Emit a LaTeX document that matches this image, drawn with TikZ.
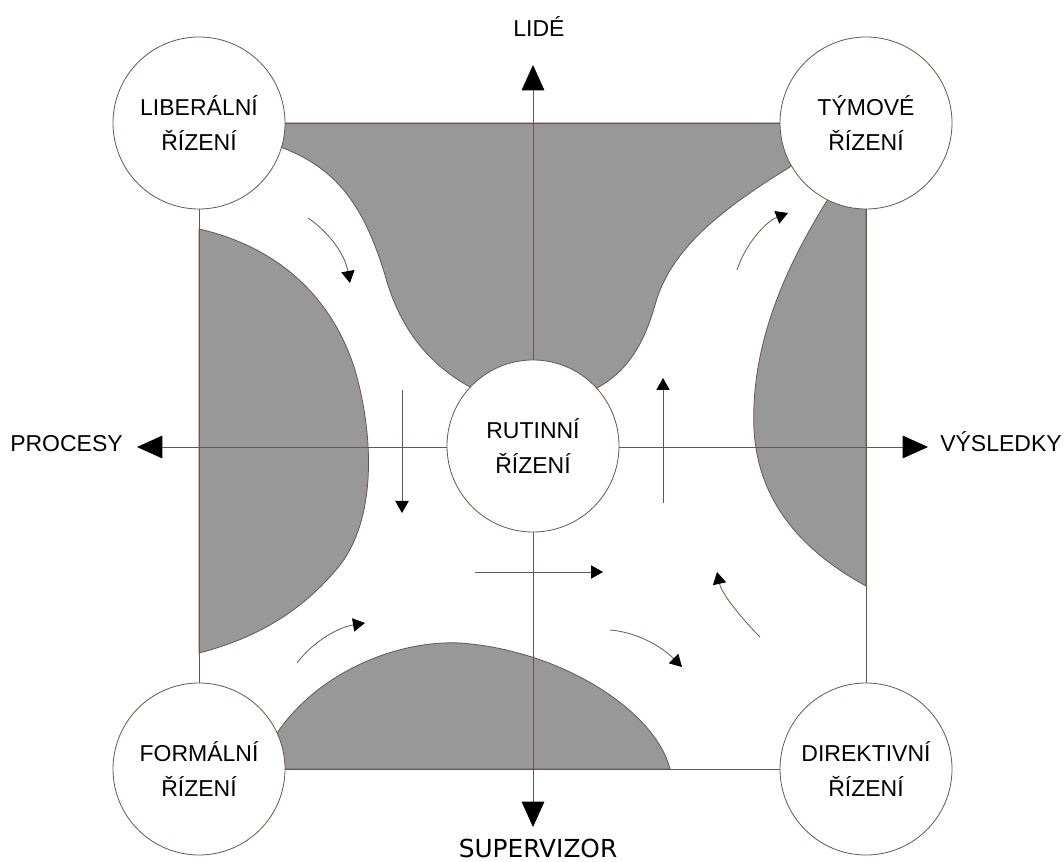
\documentclass[tikz,border=0pt]{standalone}
\usepackage{fontspec}
\setmainfont{Liberation Sans}
\newfontfamily\dejavu{DejaVu Sans}
\usetikzlibrary{arrows.meta}
\definecolor{lc}{RGB}{105,85,80}
\definecolor{shade}{RGB}{152,152,152}
\pgfdeclarelayer{bg}
\pgfsetlayers{bg,main}
\begin{document}
\begin{tikzpicture}[x=0.75pt,y=-0.75pt,
  line/.style={draw=lc,line width=0.6pt},
  zone/.style={fill=shade,draw=lc,line width=0.6pt},
  circ/.style={circle,draw=lc,line width=0.6pt,fill=white,minimum size=129pt,inner sep=0pt,align=center,font=\fontsize{17.25}{26}\selectfont},
  lbl/.style={font=\fontsize{17.25}{20}\selectfont,inner sep=0pt},
  bigarrow/.style={line,{Triangle[length=19pt,width=17pt,color=black]}-{Triangle[length=19pt,width=17pt,color=black]}},
  flow/.style={line,-{Triangle[length=9pt,width=10pt,color=black]}}]
\useasboundingbox (0,0) rectangle (1064,862);

% circles
\node[circ] (lib) at (199,123) {LIBERÁLNÍ\\ŘÍZENÍ};
\node[circ] (tym) at (866,123) {TÝMOVÉ\\ŘÍZENÍ};
\node[circ] (form) at (199,769) {FORMÁLNÍ\\ŘÍZENÍ};
\node[circ] (dir) at (866,769) {DIREKTIVNÍ\\ŘÍZENÍ};
\node[circ] (rut) at (533,446) {RUTINNÍ\\ŘÍZENÍ};

% axis labels
\node[lbl,anchor=base] (lide) at (539,37) {LIDÉ};
\node[lbl,anchor=base west] (proc) at (10,452) {PROCESY};
\node[lbl,anchor=base west] (vys) at (940,452) {VÝSLEDKY};
\node[inner sep=0pt,anchor=base,font=\dejavu\fontsize{18.6}{22}\selectfont] (sup) at (538,857) {SUPERVIZOR};

% axis tips
\coordinate (lideTip) at (533,65);
\coordinate (supTip) at (533,827);
\coordinate (procTip) at (137,447);
\coordinate (vysTip) at (928,447);

% flow arrow ends
\coordinate (a1s) at (308,218); \coordinate (a1e) at (350,283);
\coordinate (a2s) at (737,270); \coordinate (a2e) at (788,213);
\coordinate (a3s) at (402,390); \coordinate (a3e) at (402,513);
\coordinate (a4s) at (663,503); \coordinate (a4e) at (663,378);
\coordinate (a5s) at (475,572); \coordinate (a5e) at (603,572);
\coordinate (a6s) at (297,663); \coordinate (a6e) at (365,623);
\coordinate (a7s) at (610,630); \coordinate (a7e) at (682,667);
\coordinate (a8s) at (760,637); \coordinate (a8e) at (717,572);

\begin{pgfonlayer}{bg}
% grey zones
\path[zone] (250,123) -- (800,123) -- (800,150) -- (790,167)
  .. controls (720,210) and (670,250) .. (655,305)
  .. controls (645,340) and (630,370) .. (597,388)
  -- (533,420) -- (470,387)
  .. controls (430,365) and (400,330) .. (385,275)
  .. controls (365,210) and (340,170) .. (283,148)
  -- (250,140) -- cycle;
\path[zone] (199,229)
  .. controls (270,245) and (330,290) .. (355,370)
  .. controls (375,440) and (375,520) .. (340,565)
  .. controls (300,615) and (250,640) .. (199,653) -- cycle;
\path[zone] (866,160) -- (840,185) -- (828,199)
  .. controls (790,260) and (750,340) .. (754,430)
  .. controls (758,500) and (800,550) .. (866,586) -- cycle;
\path[zone] (260,769) -- (260,745) -- (277,733)
  .. controls (320,670) and (400,640) .. (460,643)
  .. controls (560,650) and (655,710) .. (670,769) -- cycle;

% square frame
\draw[line] (lib.center) -- (tym.center) -- (dir.center) -- (form.center) -- cycle;

% axes
\draw[bigarrow] (supTip) -- (lideTip);
\draw[bigarrow] (procTip) -- (vysTip);
\end{pgfonlayer}

% flow arrows
\draw[flow] (a1s) .. controls (330,233) and (345,255) .. (a1e);
\draw[flow] (a2s) .. controls (745,245) and (765,222) .. (a2e);
\draw[flow] (a3s) -- (a3e);
\draw[flow] (a4s) -- (a4e);
\draw[flow] (a5s) -- (a5e);
\draw[flow] (a6s) .. controls (310,645) and (335,628) .. (a6e);
\draw[flow] (a7s) .. controls (635,632) and (660,645) .. (a7e);
\draw[flow] (a8s) .. controls (745,622) and (722,595) .. (a8e);
\end{tikzpicture}
\end{document}
